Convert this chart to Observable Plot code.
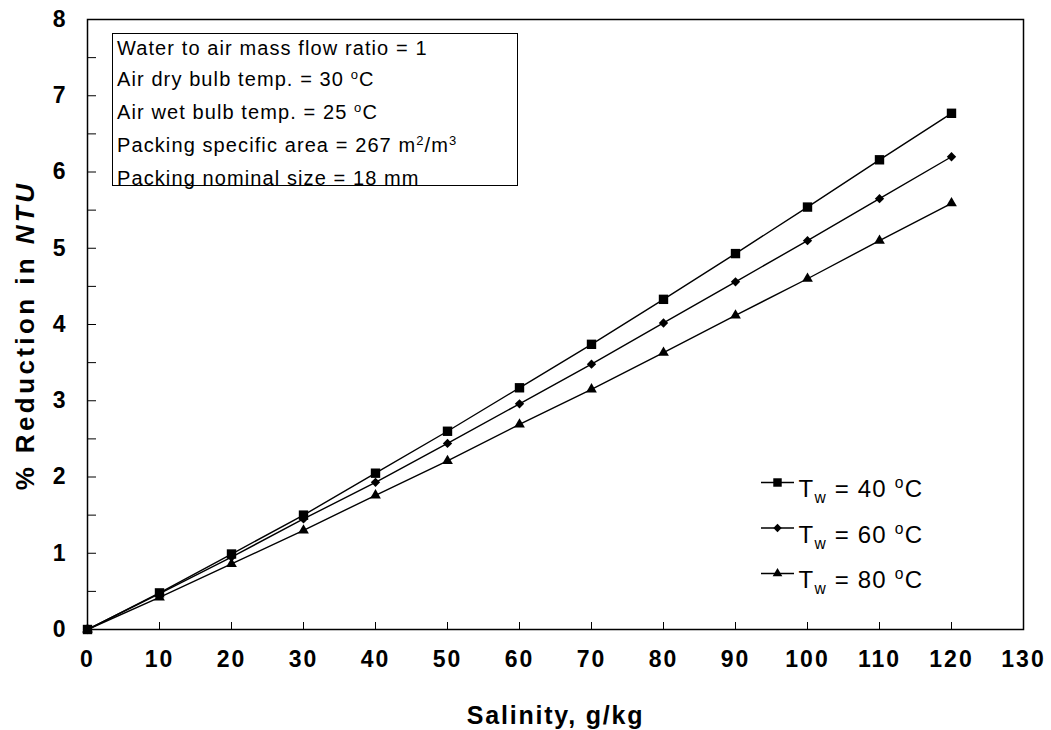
<!DOCTYPE html>
<html><head><meta charset="utf-8">
<script src="https://cdn.jsdelivr.net/npm/d3@7"></script>
<script src="https://cdn.jsdelivr.net/npm/@observablehq/plot@0.6"></script>
<style>
body{margin:0;background:#fff;}
#wrap{position:relative;width:1051px;height:730px;font-family:"Liberation Sans",Arial,sans-serif;}
#note{position:absolute;left:112px;top:33px;width:406px;height:153px;box-sizing:border-box;border:1px solid #000;padding:0 0 0 4px;font-size:20px;line-height:31px;letter-spacing:1.1px;color:#000;}
#note .first{margin-top:-1.5px;}
.sup{position:relative;top:-0.5em;font-size:0.65em;}
</style></head><body><div id="wrap"><div id="note"></div></div>
<script>
// ---- data ----
const salinity = [0, 10, 20, 30, 40, 50, 60, 70, 80, 90, 100, 110, 120];
const tw40 = [0, 0.48, 0.99, 1.50, 2.05, 2.60, 3.17, 3.74, 4.33, 4.93, 5.54, 6.16, 6.77];
const tw60 = [0, 0.47, 0.95, 1.45, 1.93, 2.44, 2.96, 3.48, 4.02, 4.56, 5.10, 5.65, 6.20];
const tw80 = [0, 0.42, 0.86, 1.30, 1.76, 2.21, 2.69, 3.15, 3.63, 4.12, 4.60, 5.10, 5.59];
const seriesKeys = ["40", "60", "80"];
const legendLabels = ["T_{w} = 40 ^{o}C", "T_{w} = 60 ^{o}C", "T_{w} = 80 ^{o}C"];
const noteLines = [
  "Water to air mass flow ratio = 1",
  "Air dry bulb temp. = 30 ^{o}C",
  "Air wet bulb temp. = 25 ^{o}C",
  "Packing specific area = 267 m^{2}/m^{3}",
  "Packing nominal size = 18 mm"
];
const xTickValues = [0, 10, 20, 30, 40, 50, 60, 70, 80, 90, 100, 110, 120, 130];
const yTickValues = [0, 1, 2, 3, 4, 5, 6, 7, 8];
const yMinorTicks = [0, 0.5, 1, 1.5, 2, 2.5, 3, 3.5, 4, 4.5, 5, 5.5, 6, 6.5, 7, 7.5, 8];
const xTitle = "Salinity, g/kg";
const yTitle = "% Reduction in *NTU*";

// ---- build table ----
const seriesValues = {"40": tw40, "60": tw60, "80": tw80};
const data = seriesKeys.flatMap(k => salinity.map((s, i) => ({s, v: seriesValues[k][i], k})));

const sym = {"40": d3.symbolSquare, "60": d3.symbolDiamond2, "80": d3.symbolTriangle};
const rad = {"40": 5.3, "60": 4.2, "80": 4.0};
const hline = {draw(c) { c.moveTo(-16.5, 0); c.lineTo(16.5, 0); }};

const legendMarks = seriesKeys.flatMap((k, i) => [
  Plot.dot([k], {frameAnchor: "top-left", dx: 690, dy: 463 + i * 45.5, symbol: hline, stroke: "#000", strokeWidth: 1.4, fill: "none"}),
  Plot.dot([k], {frameAnchor: "top-left", dx: 690, dy: 463 + i * 45.5, symbol: sym[k], r: rad[k] * 0.9, fill: "#000"}),
  Plot.text([legendLabels[i]], {frameAnchor: "top-left", dx: 711, dy: 470 + i * 45.5, textAnchor: "start", lineAnchor: "middle", fontSize: 24, fill: "#000"})
]);

const plot = Plot.plot({
  width: 1051, height: 730,
  marginLeft: 87, marginRight: 28, marginTop: 19, marginBottom: 101,
  style: {fontFamily: "'Liberation Sans', Arial, sans-serif", color: "#000", background: "#fff"},
  x: {domain: [0, 130]},
  y: {domain: [0, 8]},
  marks: [
    Plot.frame({stroke: "#000", strokeWidth: 1.5}),
    Plot.axisX(xTickValues, {tickSize: -7, stroke: "#000", fill: "none", label: null}),
    Plot.axisX(xTickValues, {tickSize: 0, tickPadding: 21, fontSize: 23, fontWeight: "bold", tickFormat: d => String(d), label: null}),
    Plot.axisY(yMinorTicks, {tickSize: -9, stroke: "#000", fill: "none", label: null}),
    Plot.axisY(yTickValues, {tickSize: 0, tickPadding: 20, fontSize: 23, fontWeight: "bold", tickFormat: d => String(d), label: null}),
    Plot.line(data, {x: "s", y: "v", z: "k", stroke: "#000", strokeWidth: 1.4}),
    ...seriesKeys.map(k => Plot.dot(data.filter(d => d.k === k), {x: "s", y: "v", symbol: sym[k], r: rad[k], fill: "#000"})),
    ...legendMarks,
    Plot.text([xTitle], {frameAnchor: "bottom", dy: 86, textAnchor: "middle", lineAnchor: "middle", fontSize: 25, fontWeight: "bold", fill: "#000"}),
    Plot.text([yTitle], {frameAnchor: "left", dx: -62, dy: 11, rotate: -90, textAnchor: "middle", lineAnchor: "middle", fontSize: 26, fontWeight: "bold", fill: "#000"})
  ]
});
document.getElementById("wrap").insertBefore(plot, document.getElementById("note"));

// ---- rich text helpers ----
function parseRich(str) {
  const re = /_\{([^}]*)\}|\^\{([^}]*)\}|\*([^*]+)\*/g;
  const out = []; let last = 0, m;
  while ((m = re.exec(str))) {
    if (m.index > last) out.push({t: str.slice(last, m.index), mode: "n"});
    if (m[1] !== undefined) out.push({t: m[1], mode: "sub"});
    else if (m[2] !== undefined) out.push({t: m[2], mode: "sup"});
    else out.push({t: m[3], mode: "it"});
    last = re.lastIndex;
  }
  if (last < str.length) out.push({t: str.slice(last), mode: "n"});
  return out;
}
const NS = "http://www.w3.org/2000/svg";
const svgSel = d3.select(plot.tagName.toLowerCase() === "svg" ? plot : plot.querySelector("svg"));

// letter spacing to match the reference's wide glyph spacing
svgSel.selectAll("g[aria-label='x-axis tick label'] text, g[aria-label='y-axis tick label'] text").style("letter-spacing", "2px");
svgSel.selectAll("text").each(function() {
  const s = this.textContent;
  if (s === xTitle) this.style.letterSpacing = "1.8px";
  else if (s.startsWith("% Reduction")) this.style.letterSpacing = "3.4px";
  else if (s.startsWith("T_")) this.style.letterSpacing = "1.2px";
});

svgSel.selectAll("text").each(function() {
  const str = this.textContent;
  if (!/[_^*]/.test(str)) return;
  const cs = getComputedStyle(this);
  const fs = parseFloat(cs.fontSize) || 24;
  const anchor = cs.textAnchor || "middle";
  const yAttr = this.getAttribute("y") || "0.32em";
  const baseY = yAttr.endsWith("em") ? parseFloat(yAttr) * fs : parseFloat(yAttr);
  const parts = parseRich(str);
  this.textContent = "";
  this.removeAttribute("y");
  this.setAttribute("text-anchor", "start");
  this.style.textAnchor = "start";
  let shift = 0;
  parts.forEach((p, idx) => {
    const ts = document.createElementNS(NS, "tspan");
    const target = p.mode === "sub" ? fs * 0.26 : p.mode === "sup" ? -fs * 0.38 : 0;
    if (idx === 0) { ts.setAttribute("x", 0); ts.setAttribute("y", baseY + target); }
    else ts.setAttribute("dy", target - shift);
    shift = target;
    if (p.mode === "sub" || p.mode === "sup") ts.setAttribute("font-size", fs * 0.65);
    if (p.mode === "it") ts.setAttribute("font-style", "italic");
    ts.textContent = p.t;
    this.appendChild(ts);
  });
  if (anchor !== "start") {
    const len = this.getComputedTextLength();
    const x0 = anchor === "end" ? -len : -len / 2;
    this.firstChild.setAttribute("x", x0);
  }
});

// ---- note box (HTML) ----
const note = document.getElementById("note");
noteLines.forEach((line, i) => {
  const div = document.createElement("div");
  if (i === 0) div.className = "first";
  for (const p of parseRich(line)) {
    if (p.mode === "sup") {
      const sp = document.createElement("span"); sp.className = "sup"; sp.textContent = p.t; div.appendChild(sp);
    } else div.appendChild(document.createTextNode(p.t));
  }
  note.appendChild(div);
});
</script></body></html>
